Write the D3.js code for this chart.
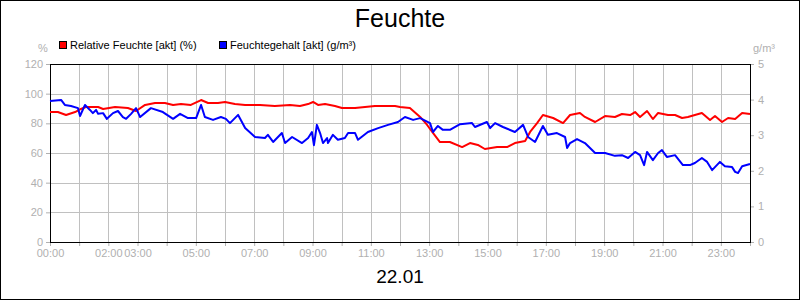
<!DOCTYPE html>
<html>
<head>
<meta charset="utf-8">
<script src="https://cdn.jsdelivr.net/npm/d3@7/dist/d3.min.js"></script>
<style>
  html, body { margin: 0; padding: 0; background: #fff; }
  svg { display: block; font-family: "Liberation Sans", Arial, sans-serif; }
</style>
</head>
<body>
<svg id="chart" width="800" height="300"></svg>
<script>
// ---- Data ----
const title = "Feuchte";
const dateLabel = "22.01";
const seriesNames = ["Relative Feuchte [akt] (%)", "Feuchtegehalt [akt] (g/m³)"];
const leftUnit = "%";
const rightUnit = "g/m³";
const leftTicks = [0, 20, 40, 60, 80, 100, 120];
const rightTicks = [0, 1, 2, 3, 4, 5];
const hourTicks = d3.range(0, 25);
const hourLabels = [0, 2, 3, 5, 7, 9, 11, 13, 15, 17, 19, 21, 23];

// [hour of day, relative humidity %]
const relFeuchte = [
  [0,87.6],[0.27,87.6],[0.55,85.6],[0.86,87.6],[1.06,89.7],[1.23,91.0],[1.65,91.0],[1.82,89.7],
  [2.23,91.0],[2.67,90.3],[2.95,88.3],[3.26,92.4],[3.6,93.7],[3.94,93.7],[4.22,92.4],[4.49,93.0],
  [4.83,92.4],[5.18,95.7],[5.42,93.7],[5.76,93.7],[6.0,94.4],[6.34,93.0],[6.69,92.4],[7.2,92.4],
  [7.71,91.7],[8.23,92.4],[8.57,91.7],[8.85,93.0],[9.02,94.4],[9.19,92.4],[9.43,93.0],[9.77,91.7],
  [10.01,90.3],[10.46,90.3],[10.8,91.0],[11.14,91.7],[11.49,91.7],[11.83,91.7],[12.0,91.0],[12.34,90.3],
  [12.69,84.3],[12.93,78.9],[13.13,73.5],[13.37,67.4],[13.71,67.4],[14.13,64.0],[14.4,66.7],[14.67,65.4],
  [14.91,62.7],[15.33,64.0],[15.67,64.0],[15.94,66.7],[16.29,68.1],[16.46,74.2],[16.7,80.2],[16.9,85.6],
  [17.25,83.6],[17.59,80.2],[17.83,85.6],[18.17,87.0],[18.34,84.3],[18.69,80.9],[19.03,84.9],[19.37,84.3],
  [19.61,86.3],[19.89,85.6],[20.06,87.6],[20.23,84.3],[20.47,88.3],[20.67,82.9],[20.85,87.0],[21.19,85.6],
  [21.43,85.6],[21.67,83.6],[21.87,84.3],[22.11,85.6],[22.35,87.0],[22.63,82.2],[22.8,84.9],[23.04,80.9],
  [23.25,83.6],[23.49,82.9],[23.73,87.0],[24.0,86.3]
];

// [hour of day, absolute humidity g/m³]
const feuchtegehalt = [
  [0,3.96],[0.38,3.99],[0.51,3.85],[0.72,3.82],[0.96,3.76],[1.03,3.54],[1.2,3.85],[1.37,3.71],
  [1.47,3.62],[1.58,3.71],[1.65,3.60],[1.82,3.62],[1.95,3.46],[2.16,3.62],[2.33,3.68],[2.5,3.51],
  [2.61,3.46],[2.78,3.60],[2.95,3.76],[3.09,3.51],[3.46,3.76],[3.87,3.65],[4.22,3.46],[4.46,3.60],
  [4.73,3.48],[5.01,3.48],[5.18,3.85],[5.31,3.51],[5.59,3.43],[5.86,3.51],[6.03,3.46],[6.17,3.34],
  [6.45,3.57],[6.69,3.20],[7.03,2.95],[7.37,2.92],[7.47,3.01],[7.65,2.81],[7.95,3.06],[8.06,2.78],
  [8.3,2.95],[8.64,2.78],[8.85,2.92],[8.98,3.09],[9.05,2.72],[9.15,3.29],[9.26,3.06],[9.36,2.78],
  [9.5,2.92],[9.53,2.78],[9.7,3.01],[9.87,2.87],[10.11,2.92],[10.22,3.06],[10.46,3.06],[10.56,2.87],
  [10.9,3.09],[11.25,3.20],[11.59,3.29],[11.93,3.37],[12.17,3.51],[12.45,3.43],[12.69,3.48],[13.03,3.34],
  [13.13,3.09],[13.3,3.26],[13.47,3.15],[13.71,3.15],[14.06,3.31],[14.47,3.34],[14.57,3.23],[14.98,3.37],
  [15.09,3.20],[15.26,3.34],[15.53,3.23],[15.94,3.09],[16.22,3.29],[16.39,2.95],[16.63,2.81],[16.9,3.26],
  [17.07,3.01],[17.38,3.06],[17.66,2.95],[17.73,2.64],[17.83,2.78],[18.07,2.89],[18.34,2.78],[18.69,2.50],
  [19.03,2.50],[19.37,2.42],[19.61,2.44],[19.82,2.36],[20.06,2.53],[20.23,2.44],[20.37,2.16],[20.47,2.53],
  [20.67,2.30],[20.85,2.50],[20.98,2.58],[21.15,2.39],[21.43,2.44],[21.7,2.16],[21.94,2.16],[22.11,2.22],
  [22.35,2.36],[22.53,2.25],[22.7,2.02],[22.97,2.25],[23.14,2.13],[23.38,2.11],[23.49,1.97],[23.59,1.94],
  [23.73,2.13],[24.0,2.19]
];

// ---- Layout ----
const W = 800, H = 300;
const m = { left: 50, right: 50, top: 64, bottom: 58 };
const pw = W - m.left - m.right, ph = H - m.top - m.bottom;
const gray = "#b0b0b0", gridCol = "#c0c0c0";

const svg = d3.select("#chart");
svg.append("rect").attr("x", 0.5).attr("y", 0.5).attr("width", W - 1).attr("height", H - 1)
  .attr("fill", "#fff").attr("stroke", "#000");

const x = d3.scaleLinear().domain([0, 24]).range([m.left, m.left + pw]);
const yL = d3.scaleLinear().domain([0, 120]).range([m.top + ph, m.top]);
const yR = d3.scaleLinear().domain([0, 5]).range([m.top + ph, m.top]);

// grid
const grid = svg.append("g").attr("stroke", gridCol).attr("stroke-width", 1).attr("shape-rendering", "crispEdges");
grid.selectAll(".v").data(hourTicks.slice(1, -1)).join("line")
  .attr("x1", d => Math.round(x(d)) + 0.5).attr("x2", d => Math.round(x(d)) + 0.5)
  .attr("y1", m.top).attr("y2", m.top + ph);
grid.selectAll(".h").data(leftTicks.slice(1, -1)).join("line")
  .attr("y1", d => Math.round(yL(d)) + 0.5).attr("y2", d => Math.round(yL(d)) + 0.5)
  .attr("x1", m.left).attr("x2", m.left + pw);

// axes
function styleAxis(g) {
  g.select(".domain").remove();
  g.selectAll(".tick line").attr("stroke", gray);
  g.selectAll(".tick text").attr("fill", gray).style("font-size", "11px")
    .style("font-family", '"Liberation Sans", Arial, sans-serif');
}
svg.append("g").attr("transform", `translate(${m.left},0)`)
  .call(d3.axisLeft(yL).tickValues(leftTicks).tickSize(4).tickPadding(3).tickFormat(d3.format("d")))
  .call(styleAxis);
svg.append("g").attr("transform", `translate(${m.left + pw},0)`)
  .call(d3.axisRight(yR).tickValues(rightTicks).tickSize(4).tickPadding(4).tickFormat(d3.format("d")))
  .call(styleAxis);
svg.append("g").attr("transform", `translate(0,${m.top + ph})`)
  .call(d3.axisBottom(x).tickValues(hourTicks).tickSize(4).tickPadding(3)
    .tickFormat(d => hourLabels.includes(d) ? String(d).padStart(2, "0") + ":00" : ""))
  .call(styleAxis);

// frame
svg.append("rect").attr("x", m.left + 0.5).attr("y", m.top + 0.5)
  .attr("width", pw).attr("height", ph).attr("fill", "none").attr("stroke", "#000")
  .attr("shape-rendering", "crispEdges");

// lines
const lineL = d3.line().x(d => x(d[0])).y(d => yL(d[1]));
const lineR = d3.line().x(d => x(d[0])).y(d => yR(d[1]));
svg.append("path").datum(relFeuchte).attr("d", lineL)
  .attr("fill", "none").attr("stroke", "#ff0000").attr("stroke-width", 2).attr("stroke-linejoin", "round");
svg.append("path").datum(feuchtegehalt).attr("d", lineR)
  .attr("fill", "none").attr("stroke", "#0000ff").attr("stroke-width", 2).attr("stroke-linejoin", "round");

// titles
svg.append("text").attr("x", W / 2).attr("y", 27).attr("text-anchor", "middle")
  .style("font-size", "25px").attr("fill", "#000").text(title);
svg.append("text").attr("x", W / 2).attr("y", 283).attr("text-anchor", "middle")
  .style("font-size", "19px").attr("fill", "#000").text(dateLabel);

// units
svg.append("text").attr("x", 43).attr("y", 52).attr("text-anchor", "middle")
  .style("font-size", "11px").attr("fill", gray).text(leftUnit);
svg.append("text").attr("x", 753).attr("y", 52).attr("text-anchor", "start")
  .style("font-size", "11px").attr("fill", gray).text(rightUnit);

// legend
const legColors = ["#ff0000", "#0000ff"];
const legX = [59, 219];
seriesNames.forEach((n, i) => {
  svg.append("rect").attr("x", legX[i] + 0.5).attr("y", 41.5).attr("width", 7).attr("height", 7)
    .attr("fill", legColors[i]).attr("stroke", "#000").attr("stroke-width", 1);
  svg.append("text").attr("x", legX[i] + 11).attr("y", 49)
    .style("font-size", "11px").attr("fill", "#000").text(n);
});
</script>
</body>
</html>
